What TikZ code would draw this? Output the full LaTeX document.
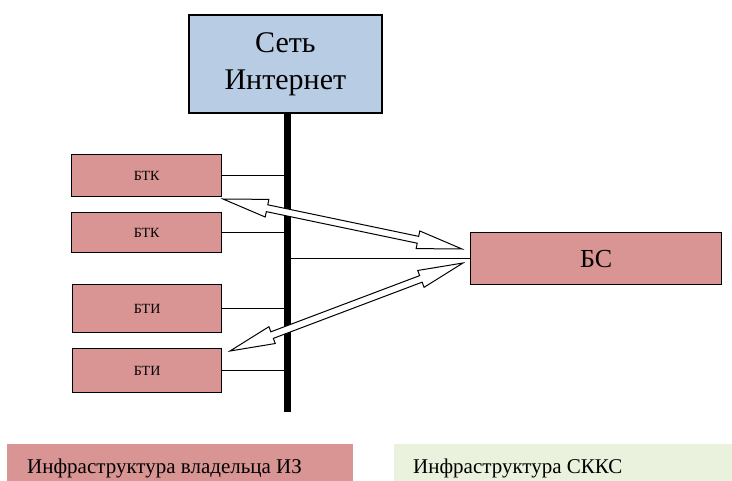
\documentclass[tikz,border=0pt]{standalone}
\usepackage{fontspec}
\setmainfont{Liberation Serif}
\newfontfamily\rs{Liberation Serif}
\usetikzlibrary{calc}
\definecolor{boxred}{HTML}{D99594}
\definecolor{boxblue}{HTML}{B8CCE4}
\definecolor{boxgreen}{HTML}{EAF1DD}
\tikzset{
  redbox/.style={draw=black, line width=1.3pt, fill=boxred, inner sep=0pt, anchor=north west},
  smalltext/.style={font=\rs\fontsize{14}{16}\selectfont},
  link/.style={line width=1.2pt},
  hollow/.style={draw=black, fill=white, line width=1pt, line join=miter},
  legend/.style={inner sep=0pt, anchor=base west, font=\rs\fontsize{21}{25}\selectfont}
}
\newcommand{\hollowarrow}[2]{%
  \path ($(#1)!45pt!(#2)$) coordinate (PA) ($(#2)!45pt!(#1)$) coordinate (PB);
  \draw[hollow] (#1) -- ($(PA)!9pt!90:(#2)$) -- ($(PA)!3.5pt!90:(#2)$) -- ($(PB)!3.5pt!-90:(#1)$) -- ($(PB)!9pt!-90:(#1)$) -- (#2) -- ($(PB)!9pt!90:(#1)$) -- ($(PB)!3.5pt!90:(#1)$) -- ($(PA)!3.5pt!-90:(#2)$) -- ($(PA)!9pt!-90:(#2)$) -- cycle;
}
\begin{document}
\begin{tikzpicture}[x=1pt, y=-1pt]
\useasboundingbox (0,0) rectangle (732,481);
% legend
\fill[boxred] (7,444) rectangle (353,481);
\fill[boxgreen] (394,444) rectangle (732,481);
\node[legend] (leg1) at (27,473) {Инфраструктура владельца ИЗ};
\node[legend] (leg2) at (413,473) {Инфраструктура СККС};
% internet
\node[draw=black, line width=1.8pt, fill=boxblue, minimum width=193pt, minimum height=98pt, inner sep=0pt, anchor=north west, align=center, font=\rs\fontsize{30}{37}\selectfont] (net) at (188,14) {Сеть\\Интернет};
% bar
\coordinate (bartop) at (287,112);
\coordinate (barbot) at (287,412);
% boxes
\node[redbox, smalltext, minimum width=150pt, minimum height=42pt] (btk1) at (71,154) {БТК};
\node[redbox, smalltext, minimum width=150pt, minimum height=40pt] (btk2) at (71,212) {БТК};
\node[redbox, smalltext, minimum width=149pt, minimum height=48pt] (bti1) at (72,284) {БТИ};
\node[redbox, smalltext, minimum width=149pt, minimum height=44pt] (bti2) at (72,348) {БТИ};
\node[redbox, minimum width=251pt, minimum height=52pt, font=\rs\fontsize{26}{30}\selectfont] (bs) at (470,232) {БС};
% links
\draw[link] (btk1.east) -- (btk1.east -| bartop);
\draw[link] (btk2.east) -- (btk2.east -| bartop);
\draw[link] (bti1.east) -- (bti1.east -| bartop);
\draw[link] (bti2.east) -- (bti2.east -| bartop);
\draw[link] (bs.west) -- (bs.west -| bartop);
\draw[line width=7pt] (bartop) -- (barbot);
% arrows
\coordinate (a1) at (223,199);
\coordinate (b1) at (462,249);
\coordinate (a2) at (230,351);
\coordinate (b2) at (463,263);
\hollowarrow{a1}{b1}
\hollowarrow{a2}{b2}
\end{tikzpicture}
\end{document}
